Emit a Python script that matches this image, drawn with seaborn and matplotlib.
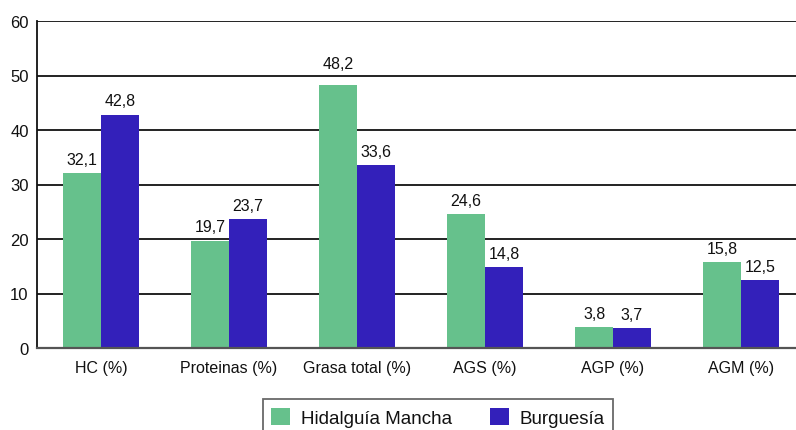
import matplotlib
matplotlib.use("Agg")
import matplotlib.pyplot as plt
import seaborn as sns
import pandas as pd

categories = ["HC (%)", "Proteinas (%)", "Grasa total (%)", "AGS (%)", "AGP (%)", "AGM (%)"]
hidalguia = [32.1, 19.7, 48.2, 24.6, 3.8, 15.8]
burguesia = [42.8, 23.7, 33.6, 14.8, 3.7, 12.5]
series_names = ["Hidalguía Mancha", "Burguesía"]
y_ticks = [0, 10, 20, 30, 40, 50, 60]

df = pd.DataFrame({
    "categoria": categories * 2,
    "valor": hidalguia + burguesia,
    "grupo": [series_names[0]] * len(categories) + [series_names[1]] * len(categories),
})

sns.set_style("white")
plt.rcParams["font.family"] = ["Liberation Sans", "DejaVu Sans"]
plt.rcParams["text.color"] = "#111111"
plt.rcParams["xtick.color"] = "#111111"
plt.rcParams["ytick.color"] = "#111111"

fig = plt.figure(figsize=(7.96, 4.31), dpi=100)
ax = fig.add_axes([37 / 796, 1 - 349 / 431, 768 / 796, (349 - 22) / 431])

palette = {series_names[0]: "#66C18C", series_names[1]: "#3320BA"}
sns.barplot(data=df, x="categoria", y="valor", hue="grupo", palette=palette,
            width=0.59, saturation=1, linewidth=0, ax=ax, legend=True, zorder=3)

# value labels above each bar; a label that would sit on a gridline is lifted above it
pad = 1.7
text_h = 2.0
for container in ax.containers:
    for bar, v in zip(container.patches, container.datavalues):
        y = v + pad
        nxt = (int(y // 10) + 1) * 10
        if y + text_h > nxt - 0.2 and y < nxt:
            y = nxt + 1.3
        ax.text(bar.get_x() + bar.get_width() / 2, y, f"{v:.1f}".replace(".", ","),
                ha="center", va="baseline", fontsize=11.5, color="#111111", zorder=5)

ax.set_ylim(0, 60)
ax.set_yticks(y_ticks)
ax.set_yticklabels([str(t) for t in y_ticks], fontsize=12)
ax.set_xlim(-0.5, len(categories) - 0.5)
ax.tick_params(axis="both", length=0)
ax.tick_params(axis="x", pad=9, labelsize=11.5)
ax.tick_params(axis="y", pad=6)
ax.set_xlabel("")
ax.set_ylabel("")

for t in y_ticks[1:]:
    ax.axhline(t, color="#111111", linewidth=1.3, zorder=1)

ax.spines["top"].set_visible(False)
ax.spines["right"].set_visible(False)
ax.spines["left"].set_color("#111111")
ax.spines["left"].set_linewidth(1.3)
ax.spines["bottom"].set_color("#555555")
ax.spines["bottom"].set_linewidth(1.6)
ax.spines["bottom"].set_zorder(4)

handles, labels = ax.get_legend_handles_labels()
ax.legend_.remove()
leg = fig.legend(handles, labels, loc="upper center", bbox_to_anchor=(438 / 796, 1 - 391 / 431),
                 ncol=2, frameon=True, fancybox=False, fontsize=13.5,
                 handlelength=1.0, handleheight=1.0, columnspacing=2.0,
                 handletextpad=0.6, borderpad=0.45)
leg.get_frame().set_edgecolor("#444444")
leg.get_frame().set_linewidth(1.3)

fig.savefig("out.png", dpi=100)
